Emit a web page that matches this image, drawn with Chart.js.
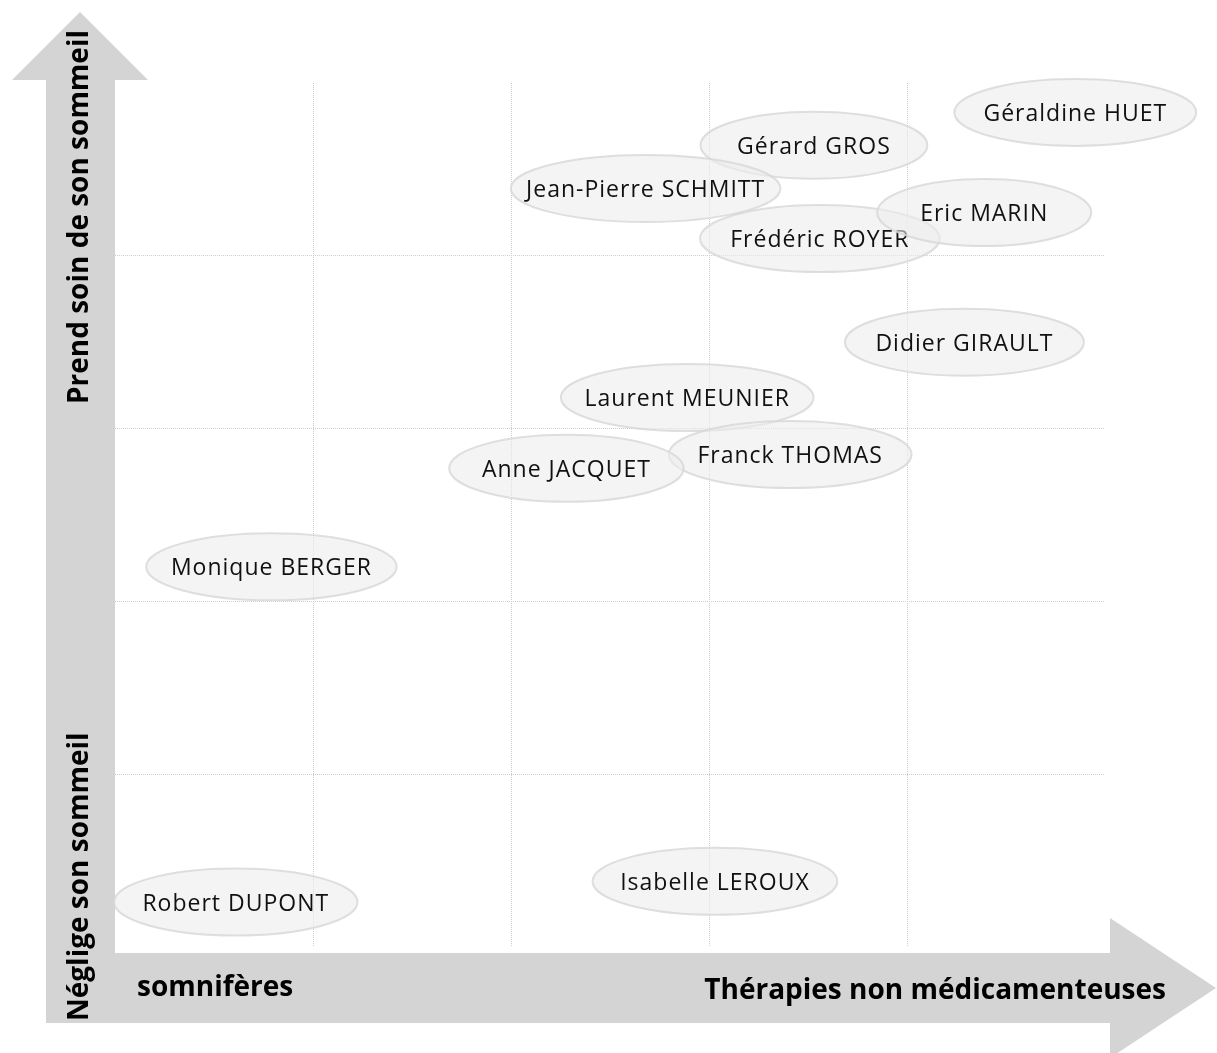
<!DOCTYPE html>
<html><head><meta charset="utf-8">
<script src="https://cdn.jsdelivr.net/npm/chart.js@4/dist/chart.umd.min.js"></script>
<style>html,body{margin:0;padding:0;background:#fff;} #wrap{width:1217px;height:1053px;position:relative;}</style>
</head><body><div id="wrap"><canvas id="c"></canvas></div>
<script>
// ---- data ----
const names   = ["Gérard GROS","Jean-Pierre SCHMITT","Géraldine HUET","Frédéric ROYER","Eric MARIN","Didier GIRAULT","Laurent MEUNIER","Franck THOMAS","Anne JACQUET","Monique BERGER","Isabelle LEROUX","Robert DUPONT"];
const xValues = [3.53, 2.68, 4.85, 3.56, 4.39, 4.29, 2.89, 3.41, 2.28, 0.79, 3.03, 0.61];
const yValues = [4.64, 4.39, 4.83, 4.10, 4.25, 3.50, 3.18, 2.85, 2.77, 2.20, 0.38, 0.26];
const xAxisLow  = "somnifères";
const xAxisHigh = "Thérapies non médicamenteuses";
const yAxisHigh = "Prend soin de son sommeil";
const yAxisLow  = "Néglige son sommeil";
const axisMin = 0, axisMax = 5;

const points = names.map((n, i) => ({x: xValues[i], y: yValues[i], label: n}));

const ARROW = '#d4d4d4';
const LABEL_FONT = '23px "Open Sans"';
const AXIS_FONT = 'bold 28px "Open Sans"';

const arrowsPlugin = {
  id: 'arrows',
  beforeDraw(chart) {
    const ctx = chart.ctx;
    const a = chart.chartArea;
    ctx.save();
    ctx.fillStyle = ARROW;
    // vertical shaft
    ctx.fillRect(46, a.top - 3, a.left - 46, 1023 - (a.top - 3));
    // vertical head
    ctx.beginPath();
    ctx.moveTo(12, a.top - 3);
    ctx.lineTo(80, 12);
    ctx.lineTo(148, a.top - 3);
    ctx.closePath();
    ctx.fill();
    // horizontal shaft
    ctx.fillRect(46, a.bottom + 6, 1110 - 46, 1023 - (a.bottom + 6));
    // horizontal head
    ctx.beginPath();
    ctx.moveTo(1110, 918);
    ctx.lineTo(1216, 988);
    ctx.lineTo(1110, 1058);
    ctx.closePath();
    ctx.fill();

    ctx.fillStyle = '#000';
    ctx.font = AXIS_FONT;
    ctx.textBaseline = 'middle';
    // horizontal texts
    ctx.textAlign = 'left';
    ctx.fillText(xAxisLow, 137, 988);
    ctx.textAlign = 'right';
    ctx.fillText(xAxisHigh, 1166, 991);
    // vertical texts
    ctx.save();
    ctx.translate(80, 0);
    ctx.rotate(-Math.PI / 2);
    ctx.textAlign = 'right';
    ctx.fillText(yAxisHigh, -30, 0);
    ctx.textAlign = 'left';
    ctx.fillText(yAxisLow, -1021, 0);
    ctx.restore();
    ctx.restore();
  }
};

const bubblesPlugin = {
  id: 'bubbles',
  afterDatasetsDraw(chart) {
    const ctx = chart.ctx;
    const meta = chart.getDatasetMeta(0);
    ctx.save();
    ctx.font = LABEL_FONT;
    try { ctx.letterSpacing = '1px'; } catch (e) {}
    meta.data.forEach((el, i) => {
      const label = chart.data.datasets[0].data[i].label;
      const tw = ctx.measureText(label).width;
      const rx = (0.5 * tw + 150) / 2;
      const ry = 33.5;
      ctx.beginPath();
      ctx.ellipse(el.x, el.y, rx, ry, 0, 0, Math.PI * 2);
      ctx.fillStyle = 'rgba(236,236,236,0.6)';
      ctx.fill();
      ctx.lineWidth = 2;
      ctx.strokeStyle = 'rgba(215,215,215,0.8)';
      ctx.stroke();
      ctx.fillStyle = '#111';
      ctx.textAlign = 'center';
      ctx.textBaseline = 'middle';
      ctx.fillText(label, el.x, el.y + 2);
    });
    ctx.restore();
  }
};

const gridColor = (c) => (c.tick && (c.tick.value === axisMin || c.tick.value === axisMax)) ? 'rgba(0,0,0,0)' : '#cdcdcd';

new Chart(document.getElementById('c'), {
  type: 'scatter',
  data: { datasets: [{ data: points, pointRadius: 0, pointHoverRadius: 0 }] },
  options: {
    responsive: true,
    maintainAspectRatio: false,
    animation: false,
    events: [],
    layout: { padding: { left: 115, top: 83, right: 112, bottom: 106 } },
    plugins: { legend: { display: false }, tooltip: { enabled: false } },
    scales: {
      x: {
        type: 'linear', min: axisMin, max: axisMax,
        ticks: { display: false, stepSize: 1 },
        grid: { color: gridColor, drawTicks: false, lineWidth: 1 },
        border: { display: false, dash: [1, 1] }
      },
      y: {
        type: 'linear', min: axisMin, max: axisMax,
        ticks: { display: false, stepSize: 1 },
        grid: { color: gridColor, drawTicks: false, lineWidth: 1 },
        border: { display: false, dash: [1, 1] }
      }
    }
  },
  plugins: [arrowsPlugin, bubblesPlugin]
});
</script>
</body></html>
